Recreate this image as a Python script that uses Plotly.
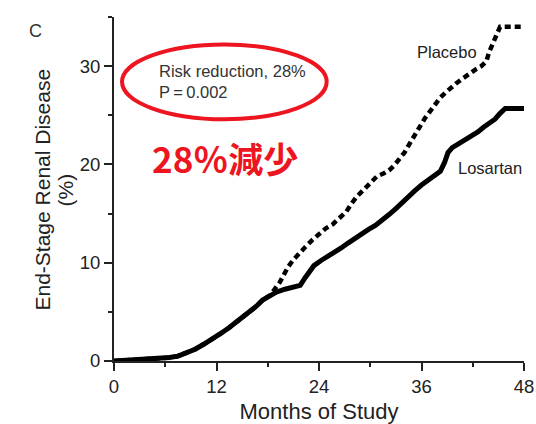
import plotly.graph_objects as go

# Cumulative incidence of end-stage renal disease (%), by month of study
losartan_months = [0, 2, 4, 5.5, 6.5, 7.5, 8.5, 9.5, 10.5, 11.5, 12.5, 13.5, 14.4, 15.2,
                   15.9, 16.7, 17.4, 18.3, 19.0, 20.0, 21.0, 21.8, 22.4, 22.8, 23.4, 24.2,
                   25.0, 25.8, 26.6, 27.4, 28.2, 29.0, 29.8, 30.6, 31.4, 32.2, 33.0, 33.8,
                   34.5, 35.2, 36.0, 36.8, 37.6, 38.2, 38.7, 39.1, 39.6, 40.4, 41.2, 41.9,
                   42.6, 43.3, 44.0, 44.6, 45.2, 45.8, 48]
losartan_pct = [0, 0.1, 0.15, 0.25, 0.35, 0.5, 0.8, 1.2, 1.7, 2.2, 2.8, 3.4, 4.0, 4.5,
                5.0, 5.6, 6.2, 6.7, 7.0, 7.3, 7.5, 7.7, 8.5, 9.0, 9.7, 10.2,
                10.6, 11.0, 11.5, 12.0, 12.5, 13.0, 13.4, 13.8, 14.3, 14.9, 15.5, 16.2,
                16.8, 17.3, 17.9, 18.4, 18.8, 19.3, 20.2, 21.2, 21.7, 22.1, 22.5, 22.9,
                23.3, 23.8, 24.2, 24.6, 25.2, 25.7, 25.7]

placebo_months = [0, 2, 4, 5.5, 6.5, 7.5, 8.5, 9.5, 10.5, 11.5, 12.5, 13.5, 14.4, 15.2,
                  15.9, 16.7, 17.4, 18.3, 18.8, 19.4, 19.9, 20.4, 21.0, 21.6, 22.4, 23.2,
                  24.0, 24.8, 25.6, 26.4, 27.2, 27.8, 28.4, 29.2, 30.0, 30.8, 31.6, 32.2,
                  32.8, 33.4, 34.0, 34.6, 35.2, 35.8, 36.4, 37.0, 37.6, 38.2, 38.8, 39.4,
                  40.0, 40.6, 41.2, 41.8, 42.4, 43.0, 43.6, 43.9, 44.3, 44.8, 45.2, 48]
placebo_pct = [0, 0.1, 0.15, 0.25, 0.35, 0.5, 0.8, 1.2, 1.7, 2.2, 2.8, 3.4, 4.0, 4.5,
               5.0, 5.6, 6.2, 6.7, 7.3, 8.0, 8.8, 9.6, 10.3, 10.8, 11.6, 12.3,
               12.9, 13.5, 13.9, 14.5, 15.2, 16.0, 16.7, 17.4, 18.1, 18.8, 19.1, 19.4,
               19.9, 20.6, 21.2, 22.1, 23.0, 23.9, 24.7, 25.4, 26.1, 26.8, 27.3, 27.8,
               28.2, 28.6, 29.0, 29.4, 29.7, 30.0, 30.5, 31.4, 32.2, 33.2, 34.0, 34.0]

x_ticks = [0, 12, 24, 36, 48]
y_ticks = [0, 10, 20, 30]

FONT = "Liberation Sans, Arial, sans-serif"
INK = "#222222"
RED = "#ec1520"

fig = go.Figure()
fig.add_trace(go.Scatter(
    x=placebo_months, y=placebo_pct, mode="lines",
    line=dict(color="black", width=4.5, dash="6px,4px"), name="Placebo",
))
fig.add_trace(go.Scatter(
    x=losartan_months, y=losartan_pct, mode="lines",
    line=dict(color="black", width=5), name="Losartan",
))

# red ellipse around the statistics box
fig.add_shape(type="circle", xref="x", yref="y", x0=0.94, x1=24.9, y0=24.6, y1=32.2,
              line=dict(color=RED, width=4))

annos = [
    dict(x=5.0, y=28.4, text="Risk reduction, 28%<br>P\u2009=\u20090.002", xanchor="left",
         align="left", font=dict(size=16.5, color="#333333")),
    dict(x=13.0, y=20.75, text="28％減少",
         font=dict(size=35, color=RED, family="Noto Sans CJK JP", weight="bold")),
    dict(x=39.0, y=31.4, text="Placebo", font=dict(size=16.5, color=INK)),
    dict(x=44.0, y=19.6, text="Losartan", font=dict(size=16.5, color=INK)),
]
for a in annos:
    fig.add_annotation(xref="x", yref="y", showarrow=False, **a)

# panel letter and the two-line y-axis title, placed in paper space
paper_texts = [
    dict(x=-0.212, y=0.994, text="C", font=dict(size=18, color="#333333")),
    dict(x=-0.2073, y=0.497, text="End-Stage Renal Disease", textangle=-90,
         font=dict(size=21, color=INK)),
    dict(x=-0.1512, y=0.497, text="(%)", textangle=-90, font=dict(size=21, color=INK)),
]
for a in paper_texts:
    fig.add_annotation(xref="paper", yref="paper", showarrow=False, **a)

axis_common = dict(
    showline=True, linecolor=INK, linewidth=2, ticks="outside", ticklen=8,
    tickwidth=2, tickcolor=INK, showgrid=False, zeroline=False, automargin=False,
    tickfont=dict(size=18.5, color=INK, family=FONT),
)
fig.update_xaxes(range=[0, 48], tickvals=x_ticks,
                 minor=dict(dtick=6, ticks="outside", ticklen=4, tickwidth=2, tickcolor=INK),
                 title=dict(text="Months of Study", font=dict(size=22, color=INK, family=FONT),
                            standoff=9),
                 **axis_common)
fig.update_yaxes(range=[0, 35], tickvals=y_ticks,
                 minor=dict(dtick=5, ticks="outside", ticklen=4, tickwidth=2, tickcolor=INK),
                 **axis_common)

fig.update_layout(
    width=536, height=424, margin=dict(l=114, r=12, t=17, b=63),
    paper_bgcolor="white", plot_bgcolor="white", showlegend=False,
    font=dict(family=FONT, color=INK),
)

fig.write_html("out.html")
